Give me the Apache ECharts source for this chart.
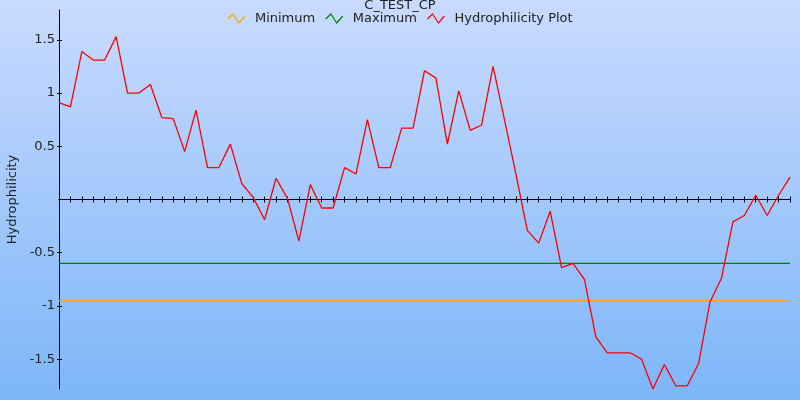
<!DOCTYPE html>
<html>
<head>
<meta charset="utf-8">
<script src="https://cdn.jsdelivr.net/npm/echarts@6/dist/echarts.min.js"></script>
<style>
html,body{margin:0;padding:0;}
#chart{width:800px;height:400px;}
</style>
</head>
<body>
<div id="chart"></div>
<script>
// ---- data ----
const titleText = 'C_TEST_CP';
const yAxisName = 'Hydrophilicity';
const seriesNames = ['Minimum', 'Maximum', 'Hydrophilicity Plot'];
const hydrophilicity = [0.91, 0.87, 1.39, 1.31, 1.31, 1.53, 1.0, 1.0, 1.08, 0.77, 0.76, 0.45, 0.84, 0.30, 0.30, 0.52, 0.15, 0.02, -0.19, 0.20, 0.01, -0.39, 0.14, -0.08, -0.08, 0.30, 0.24, 0.75, 0.30, 0.30, 0.67, 0.67, 1.21, 1.14, 0.52, 1.02, 0.65, 0.70, 1.25, 0.75, 0.24, -0.29, -0.41, -0.11, -0.64, -0.60, -0.75, -1.29, -1.44, -1.44, -1.44, -1.50, -1.78, -1.55, -1.75, -1.75, -1.54, -0.96, -0.74, -0.21, -0.15, 0.04, -0.15, 0.04, 0.21];
const minimumValue = -0.95;
const maximumValue = -0.6;
const yTickValues = [-1.5, -1, -0.5, 0.5, 1, 1.5];
const yMin = -1.78, yMax = 1.78;

// ---- build ----
const positions = hydrophilicity.map((_, i) => i);
const xLast = positions[positions.length - 1];
const plotData = hydrophilicity.map((v, i) => [positions[i], v]);
const minData = [[positions[0], minimumValue], [xLast, minimumValue]];
const maxData = [[positions[0], maximumValue], [xLast, maximumValue]];

const FONT = 'DejaVu Sans';
const TXT = '#222';
const colors = ['#FFA500', '#008000', '#FF0000'];

const chart = echarts.init(document.getElementById('chart'), null, {renderer: 'canvas'});

function xAx(top) {
  return {
    type: 'value', min: 0, max: xLast, interval: 1,
    position: top ? 'top' : 'bottom',
    axisLine: {show: true, onZero: true, lineStyle: {color: '#000', width: 1}},
    axisTick: {show: true, inside: false, length: 3, lineStyle: {color: '#000', width: 1}},
    axisLabel: {show: false},
    splitLine: {show: false}
  };
}
function yAx(main) {
  return {
    type: 'value', min: yMin, max: yMax, position: 'left', offset: 0,
    name: main ? yAxisName : '',
    nameLocation: 'middle', nameGap: 36,
    nameTextStyle: {fontFamily: FONT, fontSize: 13, color: TXT},
    axisLine: {show: main, lineStyle: {color: '#000', width: 1}},
    axisTick: {show: true, inside: !main, length: main ? 2 : 3, customValues: yTickValues, lineStyle: {color: '#000', width: 1}},
    axisLabel: {show: main, customValues: yTickValues, margin: 4, fontFamily: FONT, fontSize: 13, color: TXT,
      formatter: v => String(v)},
    splitLine: {show: false}
  };
}

chart.setOption({
  backgroundColor: {
    type: 'linear', x: 0, y: 0, x2: 0, y2: 1,
    colorStops: [{offset: 0, color: '#C9DBFE'}, {offset: 1, color: '#7DB6F9'}]
  },
  animation: false,
  title: {
    text: titleText, left: 'center', top: -6,
    textStyle: {fontFamily: FONT, fontSize: 13, fontWeight: 'normal', color: TXT}
  },
  legend: {
    top: 7, left: 'center',
    itemWidth: 17, itemHeight: 10, itemGap: 10,
    icon: 'path://M0,5 L5,0 L11,9 L17,2',
    textStyle: {fontFamily: FONT, fontSize: 13, color: TXT, padding: [0, 0, 0, 5]},
    data: seriesNames.map((n, i) => ({
      name: n,
      itemStyle: {color: 'rgba(0,0,0,0)', borderColor: colors[i], borderWidth: 1.2}
    }))
  },
  grid: {left: 59, right: 10, top: 10, bottom: 11, containLabel: false, outerBoundsMode: 'none'},
  xAxis: [xAx(false), xAx(true)],
  yAxis: [yAx(true), yAx(false)],
  series: [
    {name: seriesNames[0], type: 'line', data: minData, symbol: 'none', lineStyle: {color: colors[0], width: 1.3}, itemStyle: {color: colors[0]}, z: 3},
    {name: seriesNames[1], type: 'line', data: maxData, symbol: 'none', lineStyle: {color: colors[1], width: 1.3}, itemStyle: {color: colors[1]}, z: 3},
    {name: seriesNames[2], type: 'line', data: plotData, symbol: 'none', lineStyle: {color: colors[2], width: 1.3}, itemStyle: {color: colors[2]}, z: 4}
  ]
});
</script>
</body>
</html>
